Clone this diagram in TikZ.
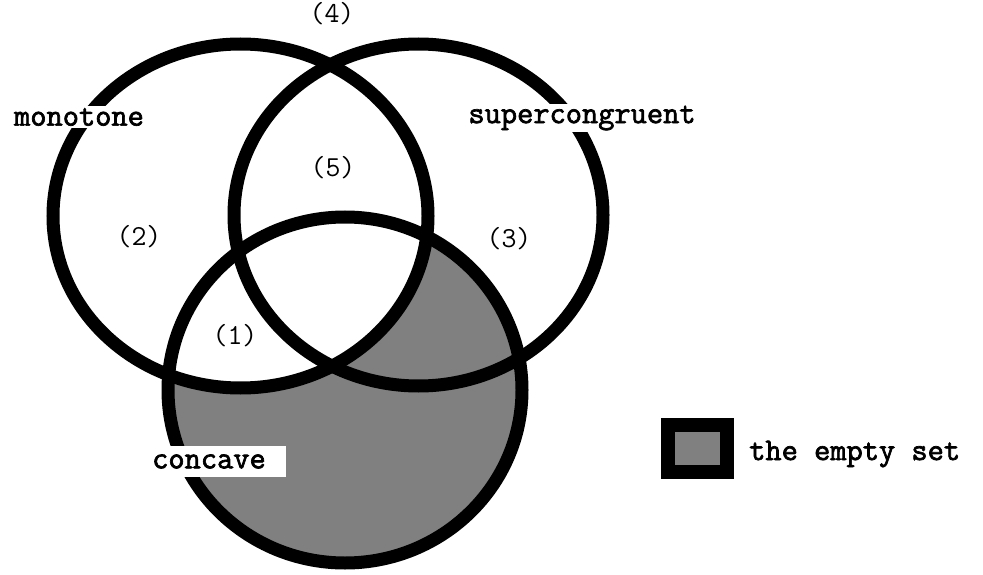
\documentclass[tikz,border=0pt]{standalone}
\usepackage{fontspec}
\newfontfamily\vennmono{Latin Modern Mono}
\newfontfamily\vennbold[FakeBold=2.2]{Latin Modern Mono}
\begin{document}
\begin{tikzpicture}[x=1pt,y=-1pt,
  ring/.style={draw=black,line width=13pt},
  setlabel/.style={fill=white,inner sep=2pt,font=\vennbold\fontsize{31.5}{31.5}\selectfont},
  regionlabel/.style={inner sep=0pt,font=\vennmono\fontsize{29}{29}\selectfont},
  emptyfill/.style={fill=black!50}]
\useasboundingbox[fill=white] (0,0) rectangle (983,575);

% centres of the three sets
\coordinate (mono) at (240.5,216);
\coordinate (super) at (418.5,215);
\coordinate (conc) at (345,390);

% concave but not monotone is empty
\fill[emptyfill] (conc) ellipse [x radius=177,y radius=173];
\fill[white] (mono) ellipse [x radius=187.5,y radius=172];

% outlines
\draw[ring] (mono) ellipse [x radius=187.5,y radius=172];
\draw[ring] (super) ellipse [x radius=184.5,y radius=171];
\draw[ring] (conc) ellipse [x radius=177,y radius=173];

% set names
\node[setlabel] (lmono) at (79,117) {monotone};
\node[setlabel] (lsuper) at (582,118) {supercongruent};
\node[setlabel,minimum height=31pt,text width=132pt,align=left,anchor=west] (lconc) at (150,461.5) {concave};

% region numbers
\node[regionlabel] (r4) at (332,14) {(4)};
\node[regionlabel] (r5) at (333,168) {(5)};
\node[regionlabel] (r2) at (139,237) {(2)};
\node[regionlabel] (r3) at (509,239) {(3)};
\node[regionlabel] (r1) at (235,336) {(1)};

% key
\node[draw=black,line width=14pt,emptyfill,minimum width=59pt,minimum height=47pt,inner sep=0pt] (key) at (697.5,448.5) {};
\node[setlabel,fill=none,anchor=west,inner sep=0pt] (keytext) at (749,454) {the empty set};
\end{tikzpicture}
\end{document}
